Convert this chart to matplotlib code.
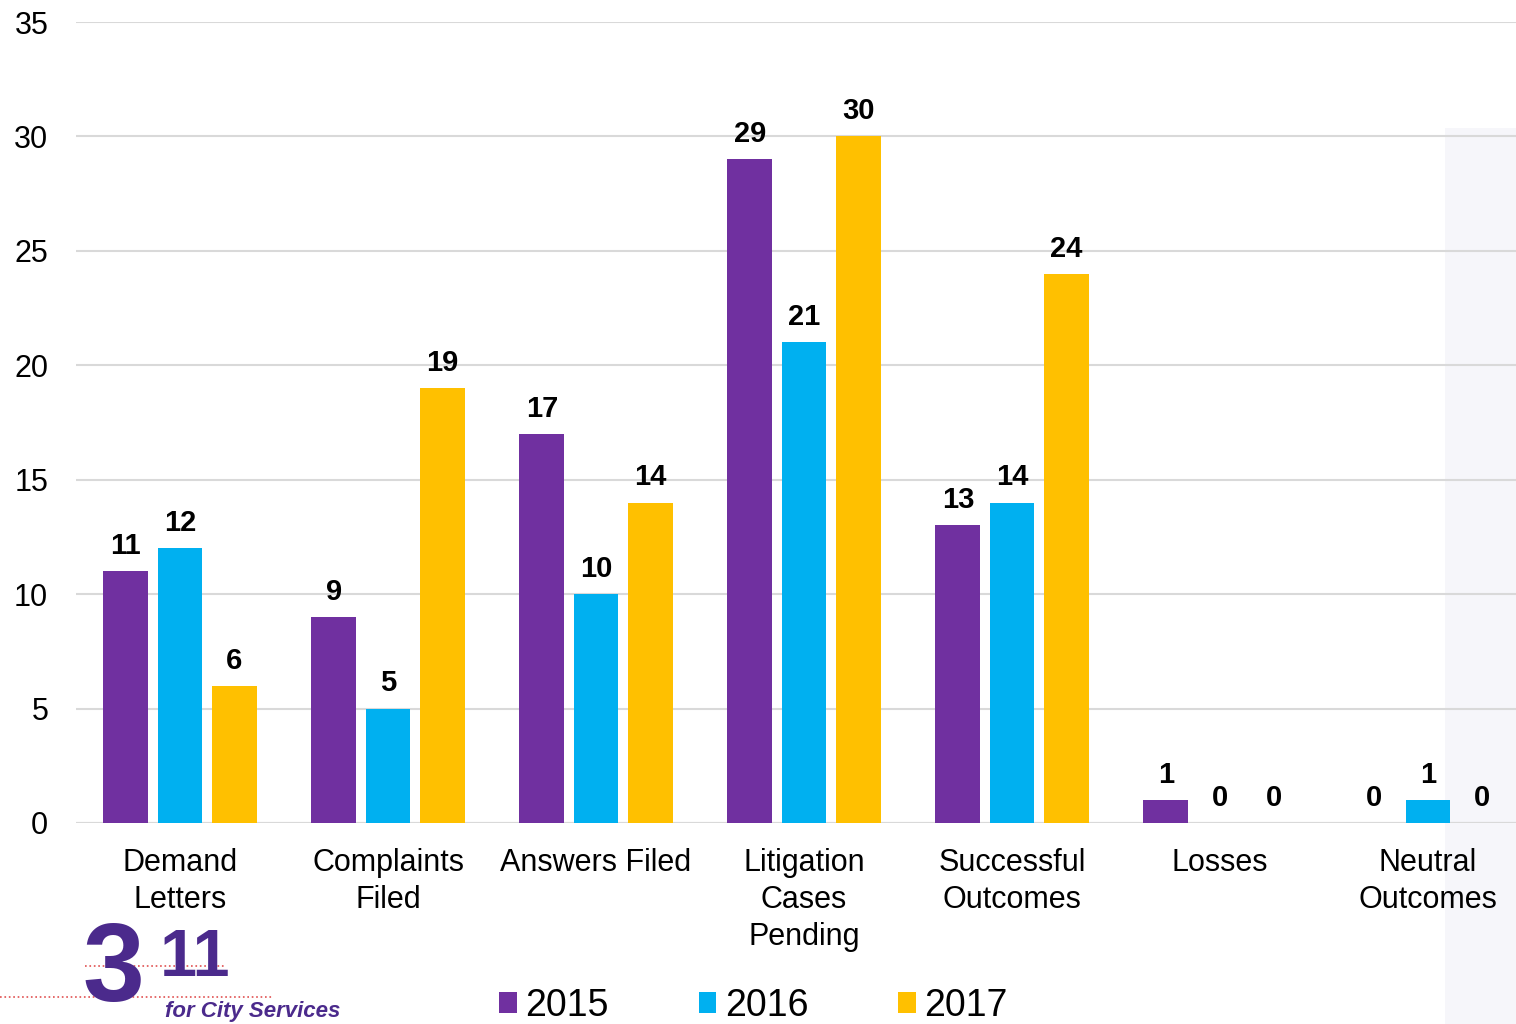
import numpy as np
import matplotlib.pyplot as plt
from matplotlib.patches import Patch, Rectangle

plt.rcParams['font.family'] = ['Liberation Sans', 'DejaVu Sans']

categories = ['Demand\nLetters', 'Complaints\nFiled', 'Answers Filed', 'Litigation\nCases\nPending',
              'Successful\nOutcomes', 'Losses', 'Neutral\nOutcomes']
years = ['2015', '2016', '2017']
vals_2015 = [11, 9, 17, 29, 13, 1, 0]
vals_2016 = [12, 5, 10, 21, 14, 0, 1]
vals_2017 = [6, 19, 14, 30, 24, 0, 0]
colors = ['#7030A0', '#00B0F0', '#FFC000']

fig = plt.figure(figsize=(15.16, 10.24), dpi=100)

# faint band on the right edge
fig.patches.append(Rectangle((1445/1516, 0), 71/1516, 896/1024, transform=fig.transFigure,
                             facecolor='#F6F6FA', edgecolor='none', zorder=-10))

ax = fig.add_axes([76/1516, 201/1024, 1440/1516, 801/1024])
ax.patch.set_alpha(0)

x = np.arange(len(categories))
width = 0.216
offset = 0.26
for i, (vals, c) in enumerate(zip([vals_2015, vals_2016, vals_2017], colors)):
    bars = ax.bar(x + (i - 1) * offset, vals, width, color=c, zorder=3)
    ax.bar_label(bars, padding=8, fontsize=21, fontweight='bold')

ax.set_xlim(-0.5, 1440/208 - 0.5)
ax.set_ylim(0, 35)
ax.set_yticks(range(0, 36, 5))
ax.grid(axis='y', color='#D9D9D9', linewidth=1.5, zorder=0)
for s in ['top', 'right', 'left', 'bottom']:
    ax.spines[s].set_visible(False)
ax.axhline(0, color='#D9D9D9', linewidth=1.5, zorder=1)
ax.set_xticks(x)
ax.set_xticklabels(categories, fontsize=22, linespacing=1.3)
ax.tick_params(axis='x', length=0, pad=18)
ax.tick_params(axis='y', length=0, pad=20, labelsize=22)

handles = [Patch(facecolor=c, edgecolor='none') for c in colors]
fig.legend(handles, years, loc='center', bbox_to_anchor=(0.497, 0.0175), ncol=3, frameon=False,
           fontsize=27, handlelength=0.47, handleheight=0.47, handletextpad=0.22,
           columnspacing=2.4, borderpad=0)

# rough version of the 311 logo in the corner
logo = '#4B2A8C'
fig.text(82/1516, 0/1024, '3', fontsize=80, fontweight='bold', color=logo, va='bottom')
fig.text(160/1516, 34/1024, '11', fontsize=48, fontweight='bold', color=logo, va='bottom')
fig.text(165/1516, 2/1024, 'for City Services', fontsize=16, fontstyle='italic', fontweight='bold',
         color=logo, va='bottom')
fig.lines.append(plt.Line2D([0, 272/1516], [27/1024, 27/1024], transform=fig.transFigure,
                            color='#E05050', linestyle=':', linewidth=1.2))
fig.lines.append(plt.Line2D([85/1516, 225/1516], [58/1024, 58/1024], transform=fig.transFigure,
                            color='#E05050', linestyle=':', linewidth=1.2))

fig.savefig('out.png', dpi=100)
